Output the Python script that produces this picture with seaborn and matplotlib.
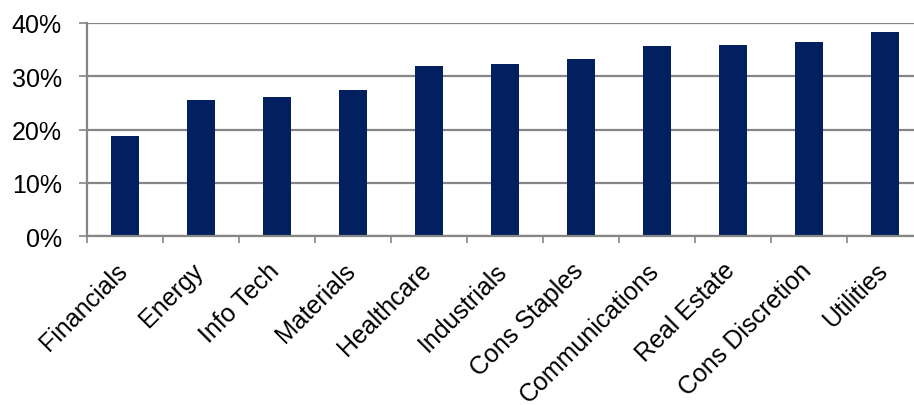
import matplotlib
matplotlib.use("Agg")
import matplotlib.pyplot as plt
import matplotlib.transforms as mtransforms
import seaborn as sns
import pandas as pd
from matplotlib.ticker import FuncFormatter, FixedLocator

categories = ["Financials", "Energy", "Info Tech", "Materials", "Healthcare",
              "Industrials", "Cons Staples", "Communications", "Real Estate",
              "Cons Discretion", "Utilities"]
values = [18.9, 25.6, 26.1, 27.4, 31.9, 32.3, 33.2, 35.6, 35.9, 36.4, 38.3]
y_ticks = [0, 10, 20, 30, 40]

sns.set_theme(style="white")
plt.rcParams['font.family'] = ['Liberation Sans', 'DejaVu Sans']

df = pd.DataFrame({"sector": categories, "value": values})

fig = plt.figure(figsize=(9.14, 4.06), dpi=100)
ax = fig.add_axes([87/914, 168.7/406, 836/914, 213.3/406])

GRID = "#868686"
sns.barplot(data=df, x="sector", y="value", color="#022060", width=0.38,
            saturation=1, edgecolor="none", ax=ax)

ax.set_ylim(0, 40)
ax.set_yticks(y_ticks)
ax.yaxis.set_major_formatter(FuncFormatter(lambda v, p: f"{v:.0f}%"))
ax.grid(axis="y", color=GRID, linewidth=1.6)
ax.set_axisbelow(True)
ax.set_xlabel("")
ax.set_ylabel("")

for s in ["top", "right"]:
    ax.spines[s].set_visible(False)
for s in ["left", "bottom"]:
    ax.spines[s].set_color(GRID)
    ax.spines[s].set_linewidth(1.6)

ax.tick_params(axis="y", which="major", direction="out", length=6, width=1.2,
               color=GRID, pad=12, labelsize=18, labelcolor="black", left=True)
ax.tick_params(axis="x", which="major", length=0, pad=6, labelsize=18,
               labelcolor="black")
ax.xaxis.set_minor_locator(FixedLocator([i - 0.5 for i in range(len(categories) + 1)]))
ax.tick_params(axis="x", which="minor", direction="out", length=5, width=1.2,
               color=GRID, bottom=True)

offset = mtransforms.ScaledTranslation(-10/100, -13/100, fig.dpi_scale_trans)
for lbl in ax.get_xticklabels():
    lbl.set_rotation(45)
    lbl.set_ha("right")
    lbl.set_va("top")
    lbl.set_rotation_mode("anchor")
    lbl.set_transform(lbl.get_transform() + offset)

fig.savefig("out.png", dpi=100)
